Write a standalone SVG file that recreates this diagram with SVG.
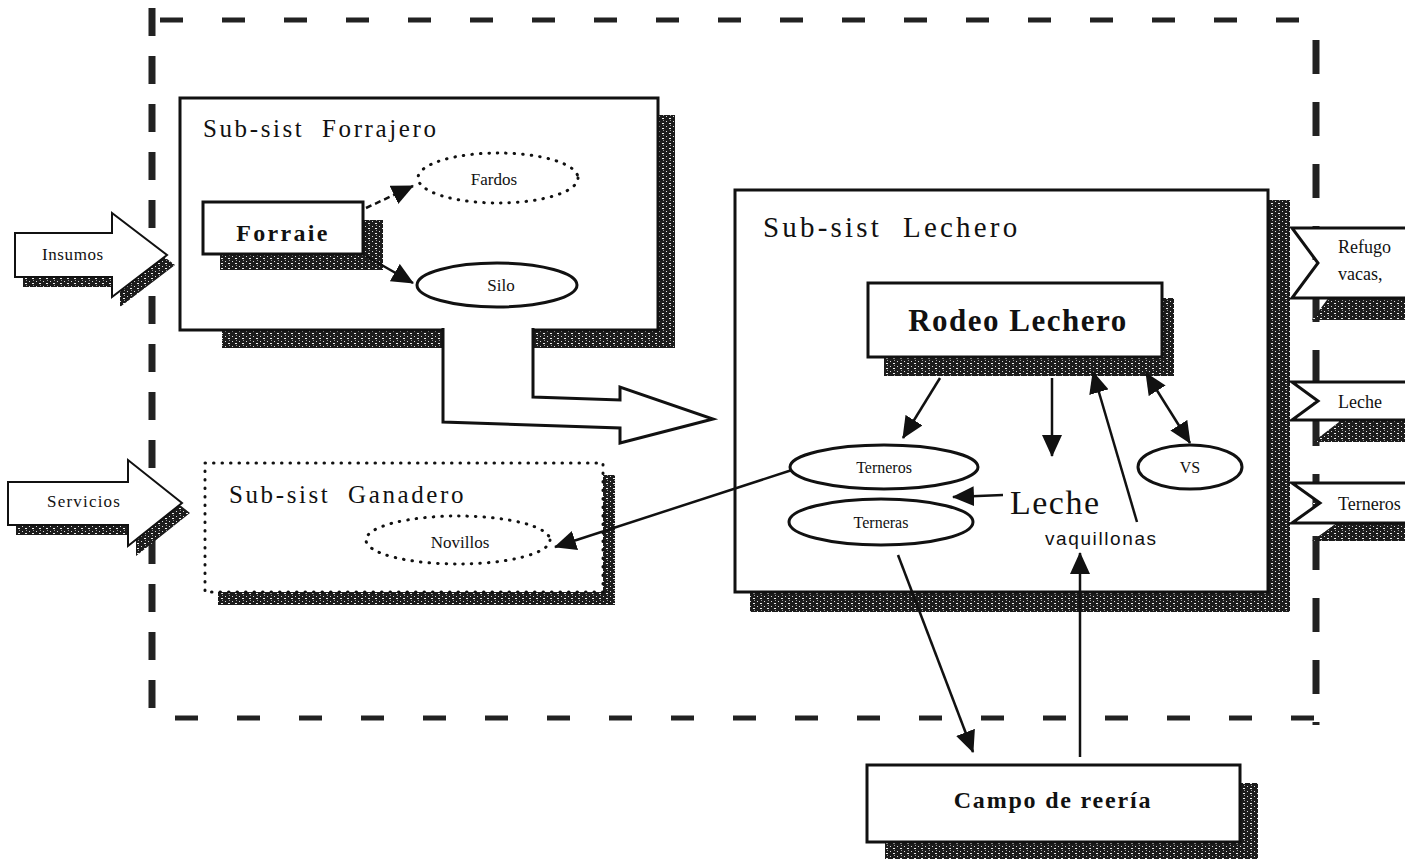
<svg xmlns="http://www.w3.org/2000/svg" width="1405" height="859" viewBox="0 0 1405 859">
<defs>
<pattern id="speck" width="7" height="5" patternUnits="userSpaceOnUse">
<rect width="7" height="5" fill="#1c1c1c"/>
<rect x="1" y="1" width="1" height="1" fill="#ddd"/>
<rect x="4" y="3" width="2" height="1" fill="#eee"/>
<rect x="5" y="0" width="1" height="1" fill="#999"/>
</pattern>
<marker id="ah" viewBox="0 0 22 20" markerUnits="userSpaceOnUse" markerWidth="22" markerHeight="20" refX="21" refY="10" orient="auto-start-reverse">
<path d="M0,0 L22,10 L0,20 z" fill="#111"/>
</marker>
<style>
.serif{font-family:"Liberation Serif","Times New Roman",serif;fill:#111}
.sans{font-family:"Liberation Sans",Arial,sans-serif;fill:#111}
.box{fill:#fff;stroke:#111;stroke-width:3}
.shadow{fill:url(#speck)}
.dot{fill:none;stroke:#111;stroke-width:3;stroke-linecap:round;stroke-dasharray:0.5 8}
.con{fill:none;stroke:#111;stroke-width:2.5}
.border{fill:none;stroke:#222}
</style>
</defs>
<rect width="1405" height="859" fill="#fff"/>

<g id="boundary">
<line class="border" x1="160" y1="20" x2="1330" y2="20" stroke-width="5" stroke-dasharray="23 39"/>
<line class="border" x1="175" y1="718" x2="1330" y2="718" stroke-width="5" stroke-dasharray="23 39"/>
<line class="border" x1="152" y1="8" x2="152" y2="720" stroke-width="7" stroke-dasharray="28 20"/>
<line class="border" x1="1316" y1="40" x2="1316" y2="725" stroke-width="7" stroke-dasharray="34 28"/>
</g>

<g id="forrajero">
<rect class="shadow" x="222" y="115" width="453" height="233"/>
<rect class="box" x="180" y="98" width="478" height="232"/>
<text class="serif" x="203" y="137" font-size="25" letter-spacing="2.6">Sub-sist&#160; Forrajero</text>
</g>

<g id="forraje">
<rect class="shadow" x="220" y="220" width="163" height="50"/>
<rect class="box" x="203" y="202" width="160" height="52"/>
<text class="serif" x="283" y="241" font-size="24" font-weight="bold" text-anchor="middle" letter-spacing="2.3">Forraie</text>
</g>

<g id="fardos">
<ellipse class="dot" cx="498" cy="178" rx="80" ry="25"/>
<text class="serif" x="494" y="185" font-size="17" text-anchor="middle">Fardos</text>
</g>

<g id="silo">
<ellipse cx="497" cy="285" rx="80" ry="22" fill="#fff" stroke="#111" stroke-width="3"/>
<text class="serif" x="501" y="291" font-size="17" text-anchor="middle">Silo</text>
</g>

<g id="flujo-forraje">
<polygon points="443,328 443,422 620,428 620,443 713,419 620,387 620,400 533,397 533,328" fill="#fff"/>
<polyline points="443,328 443,422 620,428 620,443 713,419 620,387 620,400 533,397 533,328" fill="none" stroke="#111" stroke-width="3" stroke-linejoin="miter"/>
</g>

<g id="insumos">
<polygon class="shadow" points="23,243 120,243 120,223 175,265 120,307 120,287 23,287"/>
<polygon points="15,233 112,233 112,213 167,255 112,297 112,277 15,277" fill="#fff" stroke="#111" stroke-width="2"/>
<text class="serif" x="42" y="260" font-size="17" letter-spacing="0.6">Insumos</text>
</g>

<g id="servicios">
<polygon class="shadow" points="16,492 136,492 136,470 190,513 136,556 136,535 16,535"/>
<polygon points="8,482 128,482 128,460 182,503 128,546 128,525 8,525" fill="#fff" stroke="#111" stroke-width="2"/>
<text class="serif" x="47" y="507" font-size="17" letter-spacing="1.2">Servicios</text>
</g>

<g id="ganadero">
<rect class="shadow" x="218" y="475" width="397" height="130"/>
<rect x="205" y="463" width="398" height="129" fill="#fff"/>
<rect class="dot" x="205" y="463" width="398" height="129"/>
<text class="serif" x="229" y="503" font-size="25" letter-spacing="2.6">Sub-sist&#160; Ganadero</text>
</g>

<g id="novillos">
<ellipse class="dot" cx="458" cy="540" rx="92" ry="24"/>
<text class="serif" x="460" y="548" font-size="17" text-anchor="middle">Novillos</text>
</g>

<g id="lechero">
<rect class="shadow" x="750" y="200" width="540" height="412"/>
<rect class="box" x="735" y="190" width="533" height="402"/>
<text class="serif" x="763" y="237" font-size="29" letter-spacing="3.2">Sub-sist&#160; Lechero</text>
</g>

<g id="rodeo">
<rect class="shadow" x="884" y="298" width="290" height="78"/>
<rect class="box" x="868" y="283" width="294" height="74"/>
<text class="serif" x="1018" y="331" font-size="31" font-weight="bold" text-anchor="middle" letter-spacing="1.5">Rodeo Lechero</text>
</g>

<g id="terneros">
<ellipse cx="884" cy="467" rx="94" ry="22" fill="#fff" stroke="#111" stroke-width="3"/>
<text class="serif" x="884" y="473" font-size="16" text-anchor="middle">Terneros</text>
</g>

<g id="terneras">
<ellipse cx="881" cy="522" rx="92" ry="23" fill="#fff" stroke="#111" stroke-width="3"/>
<text class="serif" x="881" y="528" font-size="16" text-anchor="middle">Terneras</text>
</g>

<g id="vs">
<ellipse cx="1190" cy="467" rx="52" ry="22" fill="#fff" stroke="#111" stroke-width="3"/>
<text class="serif" x="1190" y="473" font-size="16" text-anchor="middle">VS</text>
</g>

<g id="leche">
<text class="serif" x="1010" y="514" font-size="34" letter-spacing="1.5">Leche</text>
</g>

<g id="vaquillonas">
<text class="sans" x="1045" y="545" font-size="19" letter-spacing="1.6">vaquillonas</text>
</g>

<g id="campo">
<rect class="shadow" x="885" y="783" width="373" height="77"/>
<rect class="box" x="867" y="765" width="373" height="77"/>
<text class="serif" x="1053" y="808" font-size="24" font-weight="bold" text-anchor="middle" letter-spacing="1.8">Campo de reería</text>
</g>

<g id="out-refugo">
<polygon class="shadow" points="1312,250 1420,250 1420,320 1312,320 1338,285"/>
<polygon points="1292,228 1420,228 1420,298 1292,298 1318,263" fill="#fff" stroke="#111" stroke-width="3"/>
<text class="serif" x="1338" y="253" font-size="18">Refugo</text>
<text class="serif" x="1338" y="280" font-size="18">vacas,</text>
</g>

<g id="out-leche">
<polygon class="shadow" points="1313,402 1420,402 1420,442 1313,442 1339,422"/>
<polygon points="1292,382 1420,382 1420,420 1292,420 1318,401" fill="#fff" stroke="#111" stroke-width="3"/>
<text class="serif" x="1338" y="408" font-size="18">Leche</text>
</g>

<g id="out-terneros">
<polygon class="shadow" points="1312,503 1420,503 1420,541 1312,541 1338,522"/>
<polygon points="1292,483 1420,483 1420,523 1292,523 1320,503" fill="#fff" stroke="#111" stroke-width="3"/>
<text class="serif" x="1338" y="510" font-size="18">Terneros</text>
</g>

<g id="connectors">
<line class="con" x1="366" y1="208" x2="413" y2="186" stroke-dasharray="6 4" marker-end="url(#ah)"/>
<line class="con" x1="366" y1="256" x2="413" y2="283" marker-end="url(#ah)"/>
<line class="con" x1="940" y1="378" x2="903" y2="438" marker-end="url(#ah)"/>
<line class="con" x1="1052" y1="378" x2="1052" y2="456" marker-end="url(#ah)"/>
<line class="con" x1="1137" y1="522" x2="1093" y2="372" marker-end="url(#ah)"/>
<line class="con" x1="1146" y1="373" x2="1190" y2="443" marker-start="url(#ah)" marker-end="url(#ah)"/>
<line class="con" x1="1003" y1="495" x2="953" y2="497" marker-end="url(#ah)"/>
<line class="con" x1="792" y1="470" x2="555" y2="547" marker-end="url(#ah)"/>
<line class="con" x1="898" y1="555" x2="973" y2="752" marker-end="url(#ah)"/>
<line class="con" x1="1080" y1="757" x2="1080" y2="553" marker-end="url(#ah)"/>
</g>
</svg>
